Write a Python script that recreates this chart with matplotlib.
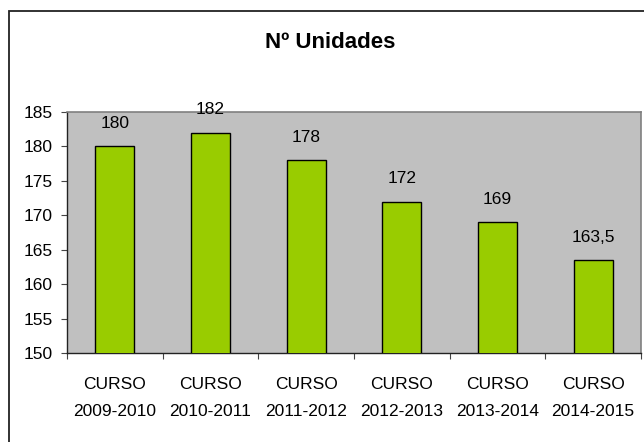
import matplotlib
matplotlib.use("Agg")
import matplotlib.pyplot as plt
from matplotlib.patches import Rectangle
from matplotlib.ticker import FixedLocator

categories = ["CURSO\n2009-2010", "CURSO\n2010-2011", "CURSO\n2011-2012",
              "CURSO\n2012-2013", "CURSO\n2013-2014", "CURSO\n2014-2015"]
values = [180, 182, 178, 172, 169, 163.5]
yticks = [150, 155, 160, 165, 170, 175, 180, 185]
title = "Nº Unidades"

plt.rcParams['font.family'] = ['Liberation Sans', 'DejaVu Sans']

fig = plt.figure(figsize=(6.44, 4.42), dpi=100)
fig.patch.set_facecolor('white')

# outer chart frame
fig.patches.append(Rectangle((9 / 644, -0.05), 1.0, (442 - 11) / 442 + 0.05,
                             transform=fig.transFigure, fill=False,
                             edgecolor='#222222', linewidth=1.3))

ax = fig.add_axes([67 / 644, (442 - 353) / 442, 574 / 644, 241 / 442])
ax.set_facecolor('#C0C0C0')

x = list(range(len(categories)))
ax.bar(x, values, width=0.41, color='#99CC00', edgecolor='black', linewidth=1.0, zorder=3)

ax.set_xlim(-0.5, len(categories) - 0.5)
ax.set_ylim(150, 185)
ax.set_yticks(yticks)
ax.set_yticklabels([str(v) for v in yticks], fontsize=12.5)
ax.set_xticks(x)
ax.set_xticklabels(categories, fontsize=12.5, linespacing=2.0)
ax.xaxis.set_minor_locator(FixedLocator([i - 0.5 for i in range(len(categories) + 1)]))
ax.tick_params(axis='x', which='major', length=0, pad=17)
ax.tick_params(axis='x', which='minor', length=4, width=0.8, color='#444444')
ax.tick_params(axis='y', which='major', length=4, width=0.8, pad=6, color='#444444')

for s in ['top', 'right']:
    ax.spines[s].set_color('#808080')
    ax.spines[s].set_linewidth(1.2)
for s in ['left', 'bottom']:
    ax.spines[s].set_color('#222222')
    ax.spines[s].set_linewidth(1.0)

for xi, v in zip(x, values):
    lab = str(int(v)) if float(v).is_integer() else str(v).replace('.', ',')
    ax.annotate(lab, (xi, v), xytext=(0, 11), textcoords='offset points',
                ha='center', va='bottom', fontsize=12.5, zorder=4, annotation_clip=False)

fig.text(330 / 644, 1 - 42 / 442, title, ha='center', va='center',
         fontsize=16, fontweight='bold')

fig.savefig('out.png', dpi=100)
